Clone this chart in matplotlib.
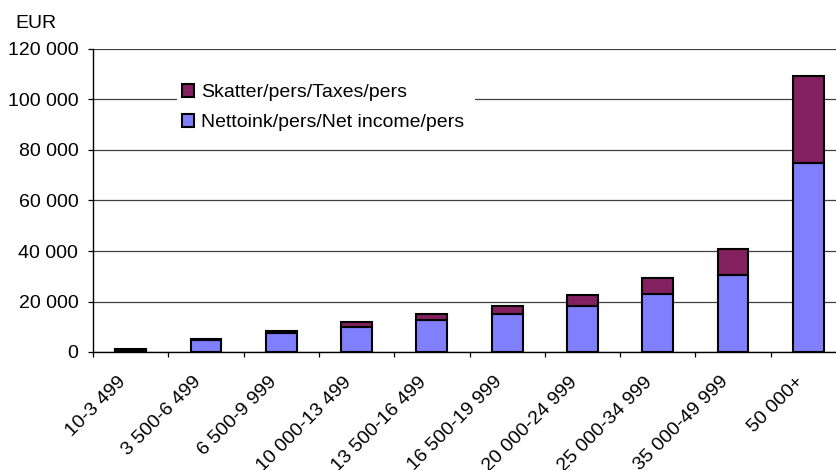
import matplotlib
matplotlib.use("Agg")
import matplotlib.pyplot as plt
from matplotlib.patches import Rectangle
import numpy as np

categories = ["10-3 499", "3 500-6 499", "6 500-9 999", "10 000-13 499", "13 500-16 499",
              "16 500-19 999", "20 000-24 999", "25 000-34 999", "35 000-49 999", "50 000+"]
net_income = [800, 4600, 7500, 10000, 12700, 15000, 18100, 23000, 30500, 75000]
taxes = [400, 600, 800, 1700, 2500, 3200, 4400, 6400, 10400, 34500]
yticks = [0, 20000, 40000, 60000, 80000, 100000, 120000]
ytick_labels = ["0", "20 000", "40 000", "60 000", "80 000", "100 000", "120 000"]

plt.rcParams['font.family'] = ['Liberation Sans', 'DejaVu Sans']
FS = 14

W, H = 836, 470
fig = plt.figure(figsize=(W/100, H/100), dpi=100)
ax_left, ax_right, ax_top, ax_bot = 93, 846, 49, 352
ax = fig.add_axes([ax_left/W, 1 - ax_bot/H, (ax_right - ax_left)/W, (ax_bot - ax_top)/H])

def ax_frac(px, py):
    return ((px - ax_left)/(ax_right - ax_left), (ax_bot - py)/(ax_bot - ax_top))

x = np.arange(len(categories))
w = 0.41
ax.bar(x, net_income, w, color="#8080FF", edgecolor="black", linewidth=1.5,
       label="Nettoink/pers/Net income/pers", zorder=3)
ax.bar(x, taxes, w, bottom=net_income, color="#832060", edgecolor="black", linewidth=1.5,
       label="Skatter/pers/Taxes/pers", zorder=3)

ax.set_xlim(-0.5, len(categories) - 0.5)
ax.set_ylim(0, 120000)
ax.set_yticks(yticks)
ax.set_yticklabels(ytick_labels, fontsize=FS)
ax.yaxis.grid(True, color="#404040", linewidth=0.9, zorder=0)
ax.set_axisbelow(True)

ax.set_xticks(np.arange(len(categories) + 1) - 0.5)
ax.set_xticklabels([])
ax.tick_params(axis='x', length=3.6, width=0.9, direction='out')
ax.tick_params(axis='y', length=3.6, width=0.9, direction='out', pad=7)
for i, lab in enumerate(categories):
    ax.text(i - 0.18, -8500, lab, rotation=45, ha='right', va='top',
            rotation_mode='anchor', fontsize=FS, transform=ax.transData)

for s in ['top', 'right']:
    ax.spines[s].set_visible(False)
ax.spines['left'].set_linewidth(1.0)
ax.spines['bottom'].set_linewidth(1.0)

# white legend area
x0, y0 = ax_frac(177, 142)
x1, y1 = ax_frac(475, 78)
ax.add_patch(Rectangle((x0, y0), x1 - x0, y1 - y0, transform=ax.transAxes,
                       facecolor="white", edgecolor="none", zorder=2))

handles, labels = ax.get_legend_handles_labels()
lx, ly = ax_frac(182, 84)
leg = ax.legend(handles[::-1], labels[::-1], loc='upper left',
                bbox_to_anchor=(lx, ly), frameon=False, fontsize=FS,
                handlelength=0.62, handleheight=0.62, handletextpad=0.36,
                borderpad=0, borderaxespad=0, labelspacing=0.66)
leg.set_zorder(5)

fig.text(15/W, 1 - 24/H, "EUR", fontsize=FS, ha='left', va='center')

fig.savefig("out.png", dpi=100)
